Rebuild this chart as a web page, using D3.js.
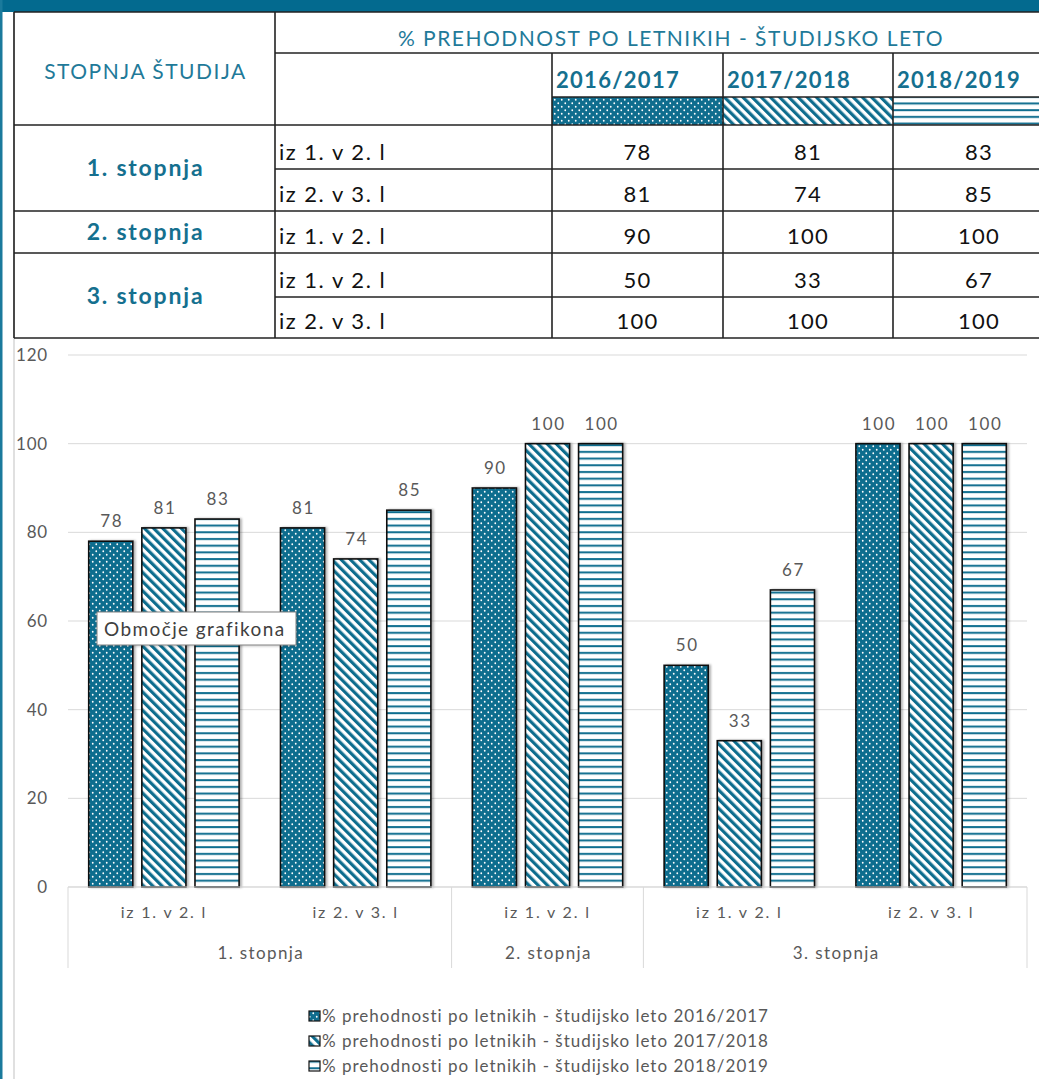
<!DOCTYPE html>
<html><head><meta charset="utf-8">
<script src="https://cdn.jsdelivr.net/npm/d3@7"></script>
<style>body{margin:0;background:#fff}svg{display:block}</style>
</head><body>
<svg id="c" width="1039" height="1079"></svg>
<script>
// ---- data ----
const years = ["2016/2017", "2017/2018", "2018/2019"];
const groups = ["1. stopnja", "2. stopnja", "3. stopnja"];
const transitions = ["iz 1. v 2. l", "iz 2. v 3. l", "iz 1. v 2. l", "iz 1. v 2. l", "iz 2. v 3. l"];
const categoryGroup = [0, 0, 1, 2, 2];
const v2016 = [78, 81, 90, 50, 100];
const v2017 = [81, 74, 100, 33, 100];
const v2018 = [83, 85, 100, 67, 100];
const yTicks = [0, 20, 40, 60, 80, 100, 120];
const tableTitle = "% PREHODNOST PO LETNIKIH - ŠTUDIJSKO LETO";
const headLeft = "STOPNJA ŠTUDIJA";
const legendPrefix = "% prehodnosti po letnikih - študijsko leto ";
const tooltipText = "Območje grafikona";

const series = [v2016, v2017, v2018];
const TEAL = "#0f6d8e", TXT = "#1f7a99", GRAY = "#595959", FONT = "Lato, 'Open Sans', sans-serif";
const svg = d3.select("#c");
const defs = svg.append("defs");

// patterns
const pDots = defs.append("pattern").attr("id", "pDots").attr("patternUnits", "userSpaceOnUse").attr("width", 7).attr("height", 7);
pDots.append("rect").attr("width", 7).attr("height", 7).attr("fill", TEAL);
pDots.append("circle").attr("cx", 1.75).attr("cy", 1.75).attr("r", 0.9).attr("fill", "#fff");
pDots.append("circle").attr("cx", 5.25).attr("cy", 5.25).attr("r", 0.9).attr("fill", "#fff");
const pDiag = defs.append("pattern").attr("id", "pDiag").attr("patternUnits", "userSpaceOnUse").attr("width", 6.5).attr("height", 6.5).attr("patternTransform", "rotate(-45)");
pDiag.append("rect").attr("width", 6.5).attr("height", 6.5).attr("fill", "#fff");
pDiag.append("rect").attr("width", 3.2).attr("height", 6.5).attr("fill", TEAL);
const pHor = defs.append("pattern").attr("id", "pHor").attr("patternUnits", "userSpaceOnUse").attr("width", 7).attr("height", 6.7);
pHor.append("rect").attr("width", 7).attr("height", 6.7).attr("fill", "#fff");
pHor.append("rect").attr("y", 2).attr("width", 7).attr("height", 2).attr("fill", TEAL);
const patterns = ["url(#pDots)", "url(#pDiag)", "url(#pHor)"];
const f = defs.append("filter").attr("id", "sh").attr("x", "-10%").attr("y", "-10%").attr("width", "130%").attr("height", "130%");
f.append("feDropShadow").attr("dx", 2).attr("dy", 0).attr("stdDeviation", 1).attr("flood-color", "#000").attr("flood-opacity", 0.3);
const f2 = defs.append("filter").attr("id", "sh2").attr("x", "-10%").attr("y", "-20%").attr("width", "130%").attr("height", "150%");
f2.append("feDropShadow").attr("dx", 1).attr("dy", 1).attr("stdDeviation", 1).attr("flood-color", "#000").attr("flood-opacity", 0.2);

const txt = (g, x, y, s, size, fill, opts = {}) => g.append("text").attr("x", x).attr("y", y)
  .attr("font-family", FONT).attr("font-size", size).attr("fill", fill)
  .attr("text-anchor", opts.anchor || "start").attr("font-weight", opts.bold ? "bold" : "normal")
  .attr("letter-spacing", opts.ls || 0).text(s);

// frame
svg.append("rect").attr("x", 0).attr("y", 0).attr("width", 1039).attr("height", 12).attr("fill", "#036a8f");
svg.append("rect").attr("x", 0).attr("y", 0).attr("width", 2.5).attr("height", 1079).attr("fill", "#1a7a9c");
svg.append("rect").attr("x", 13).attr("y", 12).attr("width", 2).attr("height", 1067).attr("fill", "#e0e0e0");

// ---- table ----
const colX = [14, 275, 552, 723, 893, 1065];
const rowY = [12, 53, 97, 125, 169, 211, 253, 297, 338];
const tg = svg.append("g");
const line = (x1, y1, x2, y2) => tg.append("line").attr("x1", x1).attr("y1", y1).attr("x2", x2).attr("y2", y2).attr("stroke", "#222").attr("stroke-width", 1.6);
years.forEach((y, i) => tg.append("rect").attr("x", colX[i + 2]).attr("y", rowY[2]).attr("width", colX[i + 3] - colX[i + 2]).attr("height", rowY[3] - rowY[2]).attr("fill", patterns[i]));
line(colX[0], rowY[0], colX[5], rowY[0]);
line(colX[1], rowY[1], colX[5], rowY[1]);
line(colX[2], rowY[2], colX[5], rowY[2]);
line(colX[0], rowY[3], colX[5], rowY[3]);
line(colX[1], rowY[4], colX[5], rowY[4]);
line(colX[0], rowY[5], colX[5], rowY[5]);
line(colX[0], rowY[6], colX[5], rowY[6]);
line(colX[1], rowY[7], colX[5], rowY[7]);
line(colX[0], rowY[8], colX[5], rowY[8]);
line(colX[0], rowY[0], colX[0], rowY[8]);
line(colX[1], rowY[0], colX[1], rowY[8]);
[2, 3, 4].forEach(c => line(colX[c], rowY[1], colX[c], rowY[8]));

txt(tg, (colX[0] + colX[1]) / 2 + 1, 79, headLeft, 21, TXT, { anchor: "middle", ls: 1.5 });
txt(tg, 671, 46, tableTitle, 21, TXT, { anchor: "middle", ls: 1.5 });
years.forEach((y, i) => txt(tg, colX[i + 2] + 4, 88, y, 22, "#15708f", { bold: true, ls: 1.3 }));
const bodyRows = [[3, 4], [4, 5], [5, 6], [6, 7], [7, 8]];
transitions.forEach((t, r) => {
  const yb = rowY[bodyRows[r][1]] - 9;
  txt(tg, colX[1] + 4, yb, t, 22, "#111", { ls: 1.5 });
  series.forEach((s, i) => txt(tg, (colX[i + 2] + colX[i + 3]) / 2, yb, s[r], 22, "#111", { anchor: "middle", ls: 1.3 }));
});
const groupRows = [[3, 5], [5, 6], [6, 8]];
groups.forEach((g, i) => {
  const yc = (rowY[groupRows[i][0]] + rowY[groupRows[i][1]]) / 2;
  txt(tg, (colX[0] + colX[1]) / 2 + 1, yc + 8, g, 23, "#15708f", { anchor: "middle", bold: true, ls: 1.8 });
});

// ---- chart ----
const x0 = d3.scaleBand().domain(d3.range(transitions.length)).range([68, 1027]).paddingInner(0).paddingOuter(0);
const cw = x0.bandwidth();
const x1 = d3.scaleBand().domain(d3.range(3)).range([cw * 0.108, cw * 0.892]).paddingInner(0.17);
const y = d3.scaleLinear().domain([0, 120]).range([887, 355]);

const cg = svg.append("g");
cg.selectAll(".grid").data(yTicks).join("line").attr("x1", 68).attr("x2", 1027).attr("y1", d => y(d)).attr("y2", d => y(d)).attr("stroke", "#d9d9d9").attr("stroke-width", 1);
const yAxis = d3.axisLeft(y).tickValues(yTicks).tickSize(0).tickPadding(0);
const ya = cg.append("g").attr("transform", "translate(48,0)").call(yAxis);
ya.select(".domain").remove();
ya.selectAll("text").attr("font-family", FONT).attr("font-size", 17).attr("fill", GRAY).attr("dy", "0.32em").attr("letter-spacing", 0.8);

// bars
series.forEach((s, si) => {
  cg.append("g").selectAll("rect").data(s).join("rect")
    .attr("x", (d, i) => x0(i) + x1(si))
    .attr("y", d => y(d))
    .attr("width", x1.bandwidth())
    .attr("height", d => y(0) - y(d))
    .attr("fill", patterns[si])
    .attr("stroke", "#111").attr("stroke-width", 1.6)
    .attr("filter", "url(#sh)");
  cg.append("g").selectAll("text").data(s).join("text")
    .attr("x", (d, i) => x0(i) + x1(si) + x1.bandwidth() / 2 + 1)
    .attr("y", d => y(d) - 14)
    .attr("text-anchor", "middle").attr("font-family", FONT).attr("font-size", 17).attr("fill", GRAY)
    .attr("letter-spacing", 1.6)
    .text(d => d);
});

// x axis
cg.append("line").attr("x1", 68).attr("x2", 1027).attr("y1", y(0)).attr("y2", y(0)).attr("stroke", "#d9d9d9");
const xAxis = d3.axisBottom(x0).tickSize(0).tickPadding(0).tickFormat(i => transitions[i]);
const xa = cg.append("g").attr("transform", `translate(0,${y(0)})`).call(xAxis);
xa.select(".domain").remove();
xa.selectAll("text").attr("font-family", FONT).attr("font-size", 16).attr("fill", GRAY).attr("dy", 0).attr("y", 31).attr("letter-spacing", 1.8);
const groupSpans = groups.map((g, gi) => {
  const idx = d3.range(transitions.length).filter(i => categoryGroup[i] === gi);
  return { g, start: x0(idx[0]), end: x0(idx[idx.length - 1]) + cw };
});
const bounds = [68].concat(groupSpans.map(d => d.end));
cg.selectAll(".sep").data(bounds).join("line").attr("x1", d => d).attr("x2", d => d).attr("y1", y(0)).attr("y2", 968).attr("stroke", "#d9d9d9");
cg.selectAll(".glab").data(groupSpans).join("text").attr("x", d => (d.start + d.end) / 2 + 1).attr("y", 959).attr("text-anchor", "middle").attr("font-family", FONT).attr("font-size", 17).attr("fill", GRAY).attr("letter-spacing", 1.4).text(d => d.g);

// legend
const lg = svg.append("g");
years.forEach((yr, i) => {
  const ly = 1016 + i * 25;
  lg.append("rect").attr("x", 309).attr("y", ly - 5).attr("width", 11).attr("height", 10).attr("fill", patterns[i]).attr("stroke", "#111").attr("stroke-width", 1.2);
  txt(lg, 322, ly + 6, legendPrefix + yr, 17, GRAY, { ls: 1 });
});

// tooltip
const tt = svg.append("g");
tt.append("rect").attr("x", 97).attr("y", 612).attr("width", 199).attr("height", 33).attr("fill", "#fff").attr("stroke", "#808080").attr("filter", "url(#sh2)");
txt(tt, 104, 636, tooltipText, 19, "#404040", { ls: 1.4 });
</script>
</body></html>
